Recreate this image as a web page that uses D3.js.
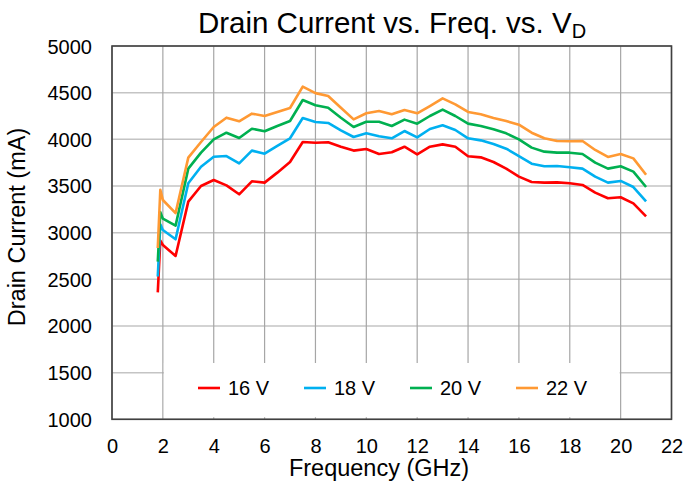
<!DOCTYPE html>
<html><head><meta charset="utf-8">
<script src="https://cdn.jsdelivr.net/npm/d3@7/dist/d3.min.js"></script>
<style>body{margin:0;background:#fff}svg{display:block;font-family:"Liberation Sans",Arial,Helvetica,sans-serif}</style>
</head><body><svg id="c" width="684" height="485"></svg>
<script>
const freq = [1.8,1.9,2.0,2.5,3,3.5,4,4.5,5,5.5,6,6.5,7,7.5,8,8.5,9,9.5,10,10.5,11,11.5,12,12.5,13,13.5,14,14.5,15,15.5,16,16.5,17,17.5,18,18.5,19,19.5,20,20.5,21];
const v16 = [2360,2915,2868,2750,3332,3500,3564,3507,3411,3550,3536,3643,3757,3971,3964,3968,3921,3879,3896,3843,3861,3921,3839,3921,3946,3921,3818,3807,3757,3686,3600,3543,3536,3539,3529,3511,3429,3368,3379,3314,3175];
const v18 = [2530,3090,3028,2929,3529,3707,3814,3821,3743,3879,3846,3929,4011,4229,4186,4175,4096,4025,4064,4032,4011,4089,4021,4111,4150,4100,4011,3989,3950,3900,3821,3739,3711,3714,3700,3686,3600,3536,3554,3489,3336];
const v20 = [2690,3220,3150,3075,3686,3857,4000,4071,4014,4114,4086,4143,4196,4421,4365,4339,4232,4132,4189,4189,4143,4211,4168,4250,4318,4250,4168,4143,4107,4064,4000,3911,3868,3857,3857,3843,3750,3686,3711,3654,3489];
const v22 = [2835,3460,3350,3210,3804,3971,4132,4232,4193,4275,4250,4293,4336,4564,4495,4464,4339,4214,4279,4304,4268,4314,4279,4357,4439,4375,4293,4268,4229,4196,4157,4071,4011,3982,3979,3982,3886,3811,3843,3796,3621];
const seriesNames = ["16 V","18 V","20 V","22 V"];
const seriesValues = [v16,v18,v20,v22];
const seriesColors = ["#ff0000","#00b0f0","#00b050","#ff9933"];
const xTicks = [0,2,4,6,8,10,12,14,16,18,20,22];
const yTicks = [1000,1500,2000,2500,3000,3500,4000,4500,5000];

const svg = d3.select("#c");
const L=112, R=671.5, T=46, B=419.3;
const x = d3.scaleLinear().domain([0,22]).range([L,R]);
const y = d3.scaleLinear().domain([1000,5000]).range([B,T]);

// gridlines
svg.append("g").selectAll("line").data(yTicks).join("line")
  .attr("x1",L).attr("x2",R).attr("y1",d=>y(d)).attr("y2",d=>y(d))
  .attr("stroke","#c4c4c4").attr("stroke-width",1.5);
svg.append("g").selectAll("line").data(xTicks).join("line")
  .attr("y1",T).attr("y2",B).attr("x1",d=>x(d)).attr("x2",d=>x(d))
  .attr("stroke","#a6a6a6").attr("stroke-width",1.2);

// axes (labels)
const xAxis = d3.axisBottom(x).tickValues(xTicks).tickSize(0).tickPadding(0);
const gx = svg.append("g").attr("transform",`translate(0,${B})`).call(xAxis);
gx.select(".domain").remove();
gx.selectAll("text").attr("font-size",20).attr("fill","#000").attr("dy",null).attr("y",33.5)
  .attr("font-family","Liberation Sans, Arial, sans-serif");
const yAxis = d3.axisLeft(y).tickValues(yTicks).tickSize(0).tickPadding(0).tickFormat(d3.format("d"));
const gy = svg.append("g").attr("transform",`translate(${L},0)`).call(yAxis);
gy.select(".domain").remove();
gy.selectAll("text").attr("font-size",20).attr("fill","#000").attr("x",-20).attr("dy","0.35em")
  .attr("font-family","Liberation Sans, Arial, sans-serif");

// series
const line = d3.line().x((d,i)=>x(freq[i])).y(d=>y(d));
svg.append("g").selectAll("path").data(seriesValues).join("path")
  .attr("d",d=>line(d)).attr("fill","none")
  .attr("stroke",(d,i)=>seriesColors[i]).attr("stroke-width",2.6)
  .attr("stroke-linejoin","round");

// legend
const lg = svg.append("g");
lg.append("rect").attr("x",x(2)+1).attr("y",363).attr("width",x(20)-x(2)-2).attr("height",B-363-2).attr("fill","#fff");
const items = lg.selectAll("g").data(seriesNames).join("g")
  .attr("transform",(d,i)=>`translate(${198+i*106},388)`);
items.append("line").attr("x1",0).attr("x2",22).attr("y1",0).attr("y2",0)
  .attr("stroke",(d,i)=>seriesColors[i]).attr("stroke-width",2.6);
items.append("text").attr("x",30).attr("dy","0.35em").attr("font-size",20).text(d=>d);

// frame
svg.append("rect").attr("x",L).attr("y",T).attr("width",R-L).attr("height",B-T)
  .attr("fill","none").attr("stroke","#404040").attr("stroke-width",1.6);

// titles
const t = svg.append("text").attr("x",392).attr("y",33).attr("text-anchor","middle").attr("font-size",29.5);
t.append("tspan").text("Drain Current vs. Freq. vs. V");
t.append("tspan").attr("font-size",20).attr("dy",5).text("D");
svg.append("text").attr("x",379).attr("y",476).attr("text-anchor","middle").attr("font-size",23.5).text("Frequency (GHz)");
svg.append("text").attr("transform","translate(25,227) rotate(-90)").attr("text-anchor","middle").attr("font-size",23.5).text("Drain Current (mA)");
</script></body></html>
